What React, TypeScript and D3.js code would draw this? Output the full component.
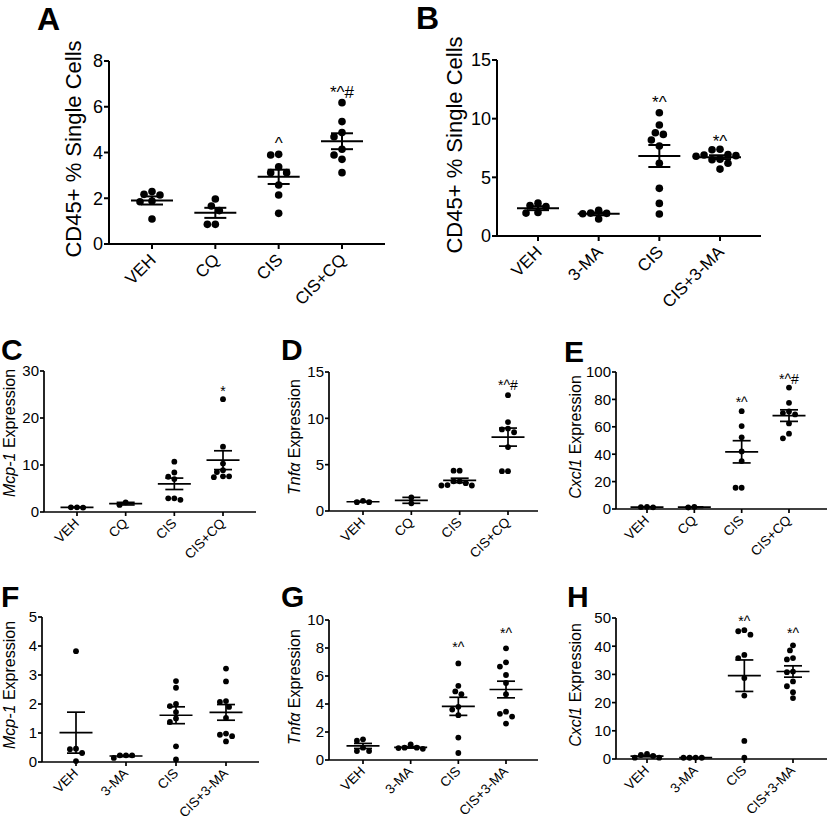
import React from "react";
import * as d3 from "d3";

// ---------- categories ----------
const catsCQ = ["VEH", "CQ", "CIS", "CIS+CQ"];
const cats3MA = ["VEH", "3-MA", "CIS", "CIS+3-MA"];

// ---------- Panel A: CD45+ % single cells (CQ) ----------
const aValues = [
  [2.17, 1.85, 1.88, 2.14, 2.29, 1.09],
  [1.66, 1.97, 1.46, 0.86, 0.86],
  [3.92, 3.89, 3.38, 3.12, 3.12, 2.58, 2.14, 1.34],
  [6.18, 5.35, 4.87, 4.69, 4.14, 3.89, 3.7, 3.12],
];
const aTicks = [0, 2, 4, 6, 8];
const aNotes = ["", "", "^", "*^#"];
const aNoteLevels = [0, 0, 4.15, 6.38];

// ---------- Panel B: CD45+ % single cells (3-MA) ----------
const bValues = [
  [2.8, 2.5, 2.0, 1.95, 2.6],
  [2.2, 1.93, 1.45, 1.9, 1.95],
  [10.5, 9.46, 8.8, 8.66, 8.18, 7.67, 6.19, 4.06, 2.78, 1.88],
  [7.39, 7.35, 6.95, 6.9, 6.85, 6.8, 6.55, 6.5, 6.2, 5.7],
];
const bTicks = [0, 5, 10, 15];
const bNotes = ["", "", "*^", "*^"];
const bNoteLevels = [0, 0, 10.9, 7.6];

// ---------- Panel C: Mcp-1 (CQ) ----------
const cValues = [
  [1.0, 0.93, 1.0],
  [1.5, 2.05],
  [7.5, 7.0, 8.4, 10.7, 2.9, 2.6, 2.9],
  [24.0, 13.9, 10.3, 8.9, 8.5, 7.6, 7.6, 7.4],
];
const cTicks = [0, 10, 20, 30];
const cNotes = ["", "", "", "*"];
const cNoteLevels = [0, 0, 0, 24.7];

// ---------- Panel D: Tnfa (CQ) ----------
const dValues = [
  [1.1, 0.95, 0.95],
  [0.83, 1.47],
  [4.35, 4.35, 3.2, 3.2, 3.0, 2.75, 2.75, 2.8],
  [12.5, 9.6, 8.9, 8.8, 8.5, 6.9, 4.3, 4.3],
];
const dTicks = [0, 5, 10, 15];
const dNotes = ["", "", "", "*^#"];
const dNoteLevels = [0, 0, 0, 13.05];

// ---------- Panel E: Cxcl1 (CQ) ----------
const eValues = [
  [1.5, 1.2, 1.3],
  [1.1, 1.5],
  [71.4, 60.5, 52.3, 42, 35, 15.5, 15.5],
  [88.6, 77.5, 71.2, 70.0, 69.0, 62.5, 55, 51.6],
];
const eTicks = [0, 20, 40, 60, 80, 100];
const eNotes = ["", "", "*^", "*^#"];
const eNoteLevels = [0, 0, 74.5, 91.2];

// ---------- Panel F: Mcp-1 (3-MA) ----------
const fValues = [
  [3.82, 0.46, 0.31, 0.44, 0.03],
  [0.23, 0.14, 0.23, 0.23],
  [2.79, 2.56, 2.0, 1.93, 1.72, 1.5, 1.38, 0.54, 0.09],
  [3.22, 2.78, 2.07, 2.1, 1.9, 1.52, 0.94, 0.71, 0.89, 0.98],
];
const fTicks = [0, 1, 2, 3, 4, 5];
const fNotes = ["", "", "", ""];
const fNoteLevels = [0, 0, 0, 0];

// ---------- Panel G: Tnfa (3-MA) ----------
const gValues = [
  [1.48, 1.38, 0.88, 0.64, 0.64],
  [0.88, 0.8, 0.85, 0.88, 1.12],
  [6.9, 5.3, 4.9, 4.7, 3.8, 3.6, 3.2, 1.6, 0.5],
  [7.98, 6.98, 6.67, 6.07, 5.5, 4.7, 3.45, 3.3, 3.1, 2.6],
];
const gTicks = [0, 2, 4, 6, 8, 10];
const gNotes = ["", "", "*^", "*^"];
const gNoteLevels = [0, 0, 7.7, 8.7];

// ---------- Panel H: Cxcl1 (3-MA) ----------
const hValues = [
  [1.78, 1.07, 0.47, 0.47, 1.42],
  [0.45, 0.45, 0.45, 0.5],
  [45.3, 44.1, 45.7, 35.8, 36.9, 28.7, 22.5, 6.4, 0.47],
  [40.3, 38.5, 35.8, 35.3, 31, 30.8, 27.5, 25.8, 23.7, 21.6],
];
const hTicks = [0, 10, 20, 30, 40, 50];
const hNotes = ["", "", "*^", "*^"];
const hNoteLevels = [0, 0, 47.2, 42.9];

const FONT = "'Liberation Sans', Arial, Helvetica, sans-serif";

type Panel = {
  letter: string;
  lx: number; ly: number; lsize: number;
  labelItalic: string; labelRest: string;
  labelX: number; labelY: number; labelSize: number;
  cats: string[];
  values: number[][];
  ticks: number[];
  notes: string[];
  noteLevels: number[];
  ax: number; top: number; bottom: number; xEnd: number; c0: number; c1: number;
  big: boolean;
};

const panels: Panel[] = [
  { letter: "A", lx: 37, ly: 30, lsize: 32, labelItalic: "", labelRest: "CD45+ % Single Cells", labelX: 81, labelY: 149, labelSize: 22,
    cats: catsCQ, values: aValues, ticks: aTicks, notes: aNotes, noteLevels: aNoteLevels,
    ax: 109, top: 61, bottom: 244, xEnd: 385, c0: 152, c1: 342, big: true },
  { letter: "B", lx: 416, ly: 29, lsize: 32, labelItalic: "", labelRest: "CD45+ % Single Cells", labelX: 462, labelY: 145, labelSize: 22,
    cats: cats3MA, values: bValues, ticks: bTicks, notes: bNotes, noteLevels: bNoteLevels,
    ax: 497, top: 60, bottom: 236, xEnd: 761, c0: 538, c1: 720, big: true },
  { letter: "C", lx: 1, ly: 360, lsize: 30, labelItalic: "Mcp-1", labelRest: " Expression", labelX: 15, labelY: 433, labelSize: 16,
    cats: catsCQ, values: cValues, ticks: cTicks, notes: cNotes, noteLevels: cNoteLevels,
    ax: 44, top: 371, bottom: 512, xEnd: 256, c0: 77, c1: 223, big: false },
  { letter: "D", lx: 281, ly: 360, lsize: 30, labelItalic: "Tnf\u03b1", labelRest: " Expression", labelX: 300, labelY: 437, labelSize: 16,
    cats: catsCQ, values: dValues, ticks: dTicks, notes: dNotes, noteLevels: dNoteLevels,
    ax: 329, top: 372, bottom: 511, xEnd: 538, c0: 363, c1: 508, big: false },
  { letter: "E", lx: 564, ly: 362, lsize: 30, labelItalic: "Cxcl1", labelRest: " Expression", labelX: 581, labelY: 437, labelSize: 16,
    cats: catsCQ, values: eValues, ticks: eTicks, notes: eNotes, noteLevels: eNoteLevels,
    ax: 616, top: 372, bottom: 509, xEnd: 827, c0: 647, c1: 789, big: false },
  { letter: "F", lx: 1, ly: 607, lsize: 30, labelItalic: "Mcp-1", labelRest: " Expression", labelX: 15, labelY: 685, labelSize: 16,
    cats: cats3MA, values: fValues, ticks: fTicks, notes: fNotes, noteLevels: fNoteLevels,
    ax: 42, top: 617, bottom: 762, xEnd: 259, c0: 76, c1: 226, big: false },
  { letter: "G", lx: 281, ly: 607, lsize: 30, labelItalic: "Tnf\u03b1", labelRest: " Expression", labelX: 300, labelY: 687, labelSize: 16,
    cats: cats3MA, values: gValues, ticks: gTicks, notes: gNotes, noteLevels: gNoteLevels,
    ax: 329, top: 620, bottom: 760, xEnd: 538, c0: 363, c1: 506, big: false },
  { letter: "H", lx: 567, ly: 607, lsize: 30, labelItalic: "Cxcl1", labelRest: " Expression", labelX: 581, labelY: 685, labelSize: 16,
    cats: cats3MA, values: hValues, ticks: hTicks, notes: hNotes, noteLevels: hNoteLevels,
    ax: 616, top: 618, bottom: 759, xEnd: 827, c0: 647, c1: 793, big: false },
];

function swarm(vals: number[], y: (v: number) => number, cx: number, r: number) {
  const order = vals.map((v, i) => ({ v, i })).sort((a, b) => b.v - a.v);
  const placed: { x: number; y: number }[] = [];
  const out: { x: number; y: number }[] = new Array(vals.length);
  const minD = 2 * r * 1.02;
  for (const o of order) {
    const py = y(o.v);
    let chosen = cx;
    for (let k = 0; k < 40; k++) {
      const step = Math.ceil(k / 2) * r * 1.05 * (k % 2 === 1 ? -1 : 1);
      const px = cx + step;
      if (placed.every((p) => Math.hypot(p.x - px, p.y - py) >= minD)) {
        chosen = px;
        break;
      }
    }
    const pt = { x: chosen, y: py };
    placed.push(pt);
    out[o.i] = pt;
  }
  return out;
}

function PanelView({ p }: { p: Panel }) {
  const maxT = p.ticks[p.ticks.length - 1];
  const y = d3.scaleLinear().domain([0, maxT]).range([p.bottom, p.top]);
  const x = d3.scalePoint<string>().domain(p.cats).range([p.c0, p.c1]);
  const r = p.big ? 3.8 : 2.9;
  const sw = p.big ? 2 : 1.7;
  const meanW = p.big ? 42 : 33;
  const capW = p.big ? 22 : 18;
  const tickFs = p.big ? 18 : 15;
  const catFs = p.big ? 17 : 13.5;
  const noteFs = p.big ? 17 : 14;
  const tl = p.big ? 5 : 4;
  return (
    <g fontFamily={FONT}>
      <text x={p.lx} y={p.ly} fontSize={p.lsize} fontWeight="bold">{p.letter}</text>
      <text transform={`translate(${p.labelX},${p.labelY}) rotate(-90)`} textAnchor="middle" fontSize={p.labelSize}>
        {p.labelItalic ? <tspan fontStyle="italic">{p.labelItalic}</tspan> : null}
        <tspan>{p.labelRest}</tspan>
      </text>
      {/* axes */}
      <line x1={p.ax} x2={p.ax} y1={p.top} y2={p.bottom} stroke="#000" strokeWidth={sw} />
      <line x1={p.ax} x2={p.xEnd} y1={p.bottom} y2={p.bottom} stroke="#000" strokeWidth={sw} />
      {p.ticks.map((t) => (
        <g key={t}>
          <line x1={p.ax - tl} x2={p.ax} y1={y(t)} y2={y(t)} stroke="#000" strokeWidth={sw} />
          <text x={p.ax - tl - 1} y={y(t)} dy="0.36em" textAnchor="end" fontSize={tickFs}>{t}</text>
        </g>
      ))}
      {p.cats.map((c) => (
        <g key={c}>
          <line x1={x(c)!} x2={x(c)!} y1={p.bottom} y2={p.bottom + tl} stroke="#000" strokeWidth={sw} />
          <text transform={`translate(${x(c)! + (p.big ? 5 : 3)},${p.bottom + (p.big ? 17 : 12)}) rotate(-45)`} textAnchor="end" fontSize={catFs}>{c}</text>
        </g>
      ))}
      {p.values.map((vals, gi) => {
        const cx = x(p.cats[gi])!;
        const m = d3.mean(vals)!;
        const sem = vals.length > 1 ? d3.deviation(vals)! / Math.sqrt(vals.length) : 0;
        const pts = swarm(vals, y, cx, r);
        return (
          <g key={gi}>
            {pts.map((pt, i) => (
              <circle key={i} cx={pt.x} cy={pt.y} r={r} fill="#000" />
            ))}
            <line x1={cx - meanW / 2} x2={cx + meanW / 2} y1={y(m)} y2={y(m)} stroke="#000" strokeWidth={sw} />
            <line x1={cx} x2={cx} y1={y(m + sem)} y2={y(m - sem)} stroke="#000" strokeWidth={sw} />
            <line x1={cx - capW / 2} x2={cx + capW / 2} y1={y(m + sem)} y2={y(m + sem)} stroke="#000" strokeWidth={sw} />
            <line x1={cx - capW / 2} x2={cx + capW / 2} y1={y(m - sem)} y2={y(m - sem)} stroke="#000" strokeWidth={sw} />
            {p.notes[gi] ? (
              <text x={cx} y={y(p.noteLevels[gi])} textAnchor="middle" fontSize={noteFs}>{p.notes[gi]}</text>
            ) : null}
          </g>
        );
      })}
    </g>
  );
}

export default function App() {
  return (
    <div style={{ position: "absolute", left: 0, top: 0 }}>
      <svg width={827} height={827} viewBox="0 0 827 827" style={{ display: "block", background: "#fff" }}>
        <rect width={827} height={827} fill="#fff" />
        {panels.map((p) => (
          <PanelView key={p.letter} p={p} />
        ))}
      </svg>
    </div>
  );
}
